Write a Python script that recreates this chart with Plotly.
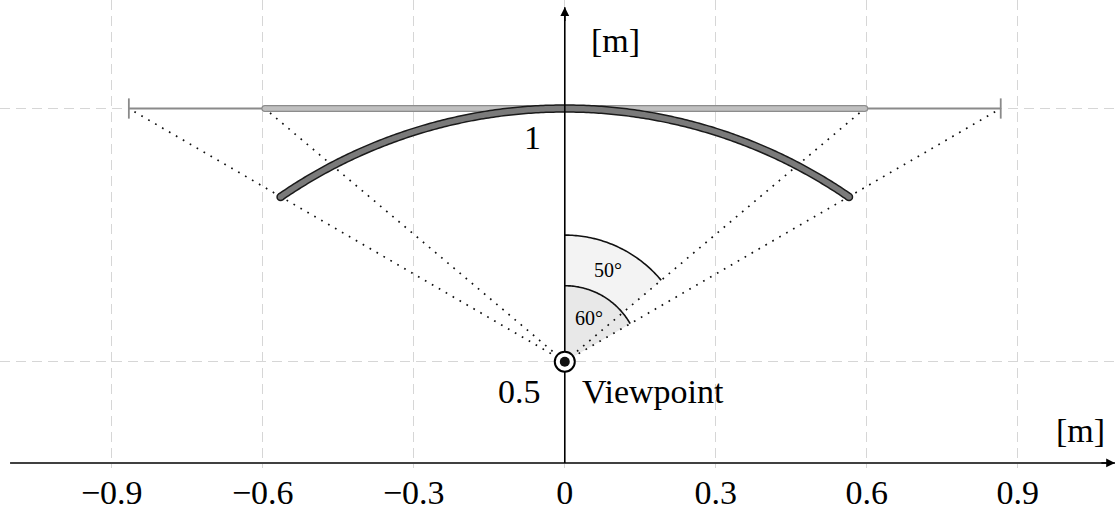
import numpy as np
import plotly.graph_objects as go

# ---- data ----
x_ticks = [-0.9, -0.6, -0.3, 0.0, 0.3, 0.6, 0.9]
x_tick_labels = ["−0.9", "−0.6", "−0.3", "0", "0.3", "0.6", "0.9"]
y_ticks = [0.5, 1.0]
y_tick_labels = ["0.5", "1"]
viewpoint_x = 0.0
viewpoint_y = 0.5
screen_y = 1.0
fov_half_angles_deg = [60, 50]          # flat screen (thin), flat screen (thick bar)
wedge_radii = [0.15, 0.25]              # 60° wedge, 50° wedge
wedge_labels = ["60°", "50°"]
curved_radius = 1.0
curved_arc_length = 1.2
x_range = [-1.122, 1.099]
y_range = [0.290, 1.2143]
x_axis_y = 0.3
x_axis_ends = [-1.102, 1.093]
y_axis_top = 1.2

FONT = "Liberation Serif"
fig = go.Figure()

dist = screen_y - viewpoint_y
half_w60 = dist * np.tan(np.radians(fov_half_angles_deg[0]))
half_w50 = dist * np.tan(np.radians(fov_half_angles_deg[1]))

# ---- wedges (50° lighter behind, 60° darker in front) ----
for ang, r, col in [(fov_half_angles_deg[1], wedge_radii[1], "#f3f3f3"),
                    (fov_half_angles_deg[0], wedge_radii[0], "#e8e8e8")]:
    phi = np.radians(np.linspace(0, ang, 60))
    xs = np.concatenate([[viewpoint_x], viewpoint_x + r * np.sin(phi), [viewpoint_x]])
    ys = np.concatenate([[viewpoint_y], viewpoint_y + r * np.cos(phi), [viewpoint_y]])
    fig.add_trace(go.Scatter(x=xs, y=ys, mode="lines", fill="toself", fillcolor=col,
                             line=dict(width=0, color=col, simplify=False),
                             hoverinfo="skip", showlegend=False))
for ang, r in zip(fov_half_angles_deg, wedge_radii):
    phi = np.radians(np.linspace(0, ang, 60))
    fig.add_trace(go.Scatter(x=viewpoint_x + r * np.sin(phi), y=viewpoint_y + r * np.cos(phi),
                             mode="lines", line=dict(color="#111", width=1.6, simplify=False),
                             hoverinfo="skip", showlegend=False))

# ---- dotted sight lines ----
for hw in [half_w60, half_w50]:
    for s in (-1, 1):
        fig.add_trace(go.Scatter(x=[viewpoint_x, viewpoint_x + s * hw], y=[viewpoint_y, screen_y],
                                 mode="lines", line=dict(color="#111", width=1.7, dash="1.7px,6.3px"),
                                 hoverinfo="skip", showlegend=False))

# ---- thin flat screen with end ticks ----
fig.add_trace(go.Scatter(x=[-half_w60, half_w60], y=[screen_y, screen_y], mode="lines",
                         line=dict(color="#8a8a8a", width=2), hoverinfo="skip", showlegend=False))
for s in (-1, 1):
    fig.add_trace(go.Scatter(x=[s * half_w60, s * half_w60], y=[screen_y - 0.02, screen_y + 0.02],
                             mode="lines", line=dict(color="#8a8a8a", width=1.8),
                             hoverinfo="skip", showlegend=False))

# ---- thick flat bar ----
fig.add_trace(go.Scatter(x=[-half_w50, half_w50], y=[screen_y, screen_y], mode="lines+markers",
                         line=dict(color="#8c8c8c", width=7),
                         marker=dict(size=7, color="#8c8c8c"), hoverinfo="skip", showlegend=False))
fig.add_trace(go.Scatter(x=[-half_w50, half_w50], y=[screen_y, screen_y], mode="lines+markers",
                         line=dict(color="#bfbfbf", width=4.6),
                         marker=dict(size=4.6, color="#bfbfbf"), hoverinfo="skip", showlegend=False))

# ---- curved screen ----
half_ang = curved_arc_length / 2 / curved_radius
phi = np.linspace(-half_ang, half_ang, 240)
ax_ = curved_radius * np.sin(phi)
ay_ = curved_radius * np.cos(phi)
fig.add_trace(go.Scatter(x=ax_, y=ay_, mode="lines",
                         line=dict(color="#1a1a1a", width=8.5, simplify=False),
                         hoverinfo="skip", showlegend=False))
fig.add_trace(go.Scatter(x=[ax_[0], ax_[-1]], y=[ay_[0], ay_[-1]], mode="markers",
                         marker=dict(size=8.5, color="#1a1a1a"), hoverinfo="skip", showlegend=False))
fig.add_trace(go.Scatter(x=ax_, y=ay_, mode="lines",
                         line=dict(color="#7a7a7a", width=5.5, simplify=False),
                         hoverinfo="skip", showlegend=False))
fig.add_trace(go.Scatter(x=[ax_[0], ax_[-1]], y=[ay_[0], ay_[-1]], mode="markers",
                         marker=dict(size=5.5, color="#7a7a7a"), hoverinfo="skip", showlegend=False))

# ---- axes lines ----
fig.add_trace(go.Scatter(x=x_axis_ends, y=[x_axis_y, x_axis_y], mode="lines",
                         line=dict(color="#000", width=1.6), hoverinfo="skip", showlegend=False))
fig.add_trace(go.Scatter(x=[0, 0], y=[x_axis_y, y_axis_top], mode="lines",
                         line=dict(color="#000", width=1.6), hoverinfo="skip", showlegend=False))

# ---- viewpoint marker ----
fig.add_trace(go.Scatter(x=[viewpoint_x], y=[viewpoint_y], mode="markers",
                         marker=dict(size=20, color="white", line=dict(color="#000", width=2)),
                         hoverinfo="skip", showlegend=False))
fig.add_trace(go.Scatter(x=[viewpoint_x], y=[viewpoint_y], mode="markers",
                         marker=dict(size=10, color="#111"), hoverinfo="skip", showlegend=False))

ann = []
# arrow heads
ann.append(dict(x=x_axis_ends[1], y=x_axis_y, ax=x_axis_ends[1] - 0.03, ay=x_axis_y,
                xref="x", yref="y", axref="x", ayref="y", text="", showarrow=True,
                arrowhead=2, arrowsize=1.1, arrowwidth=1.6, arrowcolor="#000"))
ann.append(dict(x=0, y=y_axis_top, ax=0, ay=y_axis_top - 0.03,
                xref="x", yref="y", axref="x", ayref="y", text="", showarrow=True,
                arrowhead=2, arrowsize=1.1, arrowwidth=1.6, arrowcolor="#000"))
big = dict(family=FONT, size=34, color="#000")
ann.append(dict(x=0.1, y=1.135, text="[m]", showarrow=False, font=big))
ann.append(dict(x=1.024, y=0.365, text="[m]", showarrow=False, font=big))
for v, t in zip(y_ticks, y_tick_labels):
    ann.append(dict(x=-0.044, y=v - 0.058, text=t, showarrow=False, xanchor="right", font=big))
ann.append(dict(x=0.030, y=viewpoint_y - 0.058, text="Viewpoint", showarrow=False,
                xanchor="left", font=big))
small = dict(family=FONT, size=20, color="#000")
ann.append(dict(x=0.049, y=0.586, text=wedge_labels[0], showarrow=False, font=small))
ann.append(dict(x=0.086, y=0.681, text=wedge_labels[1], showarrow=False, font=small))
for a in ann:
    a.setdefault("xref", "x")
    a.setdefault("yref", "y")

fig.update_layout(
    width=1118, height=511, margin=dict(l=0, r=0, t=0, b=43, autoexpand=False),
    paper_bgcolor="white", plot_bgcolor="white",
    xaxis=dict(range=x_range, tickvals=x_ticks, ticktext=x_tick_labels, automargin=False,
               showgrid=True, gridcolor="#d6d6d6", gridwidth=1.3, griddash="10px,6px",
               zeroline=False, showline=False, ticks="", ticklabelstandoff=1,
               tickfont=dict(family=FONT, size=34, color="#000"), fixedrange=True),
    yaxis=dict(range=y_range, tickvals=y_ticks, showticklabels=False, automargin=False,
               showgrid=True, gridcolor="#d6d6d6", gridwidth=1.3, griddash="10px,6px",
               zeroline=False, showline=False, ticks="", fixedrange=True),
    annotations=ann, showlegend=False,
)
fig.write_html("out.html")
